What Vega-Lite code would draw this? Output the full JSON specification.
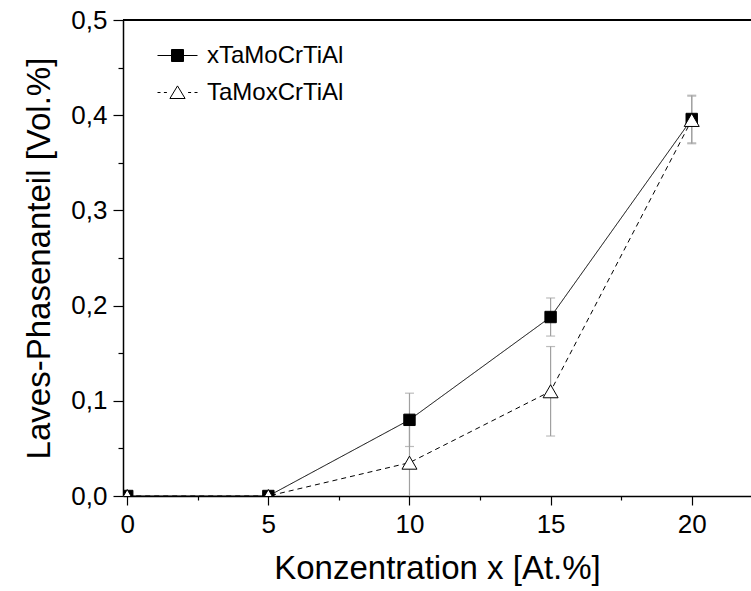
{
  "$schema": "https://vega.github.io/schema/vega-lite/v6.json",
  "width": 628,
  "height": 476,
  "autosize": "none",
  "padding": {"left": 123, "top": 20, "right": 0, "bottom": 95},
  "background": "white",
  "config": {
    "view": {"stroke": null},
    "font": "Liberation Sans",
    "axis": {
      "grid": false,
      "domainColor": "black",
      "domainWidth": 1.5,
      "tickColor": "black",
      "tickWidth": 1.2,
      "labelFont": "Liberation Sans",
      "labelFontSize": 26,
      "labelColor": "black",
      "titleFont": "Liberation Sans",
      "titleFontSize": 33,
      "titleFontWeight": "normal",
      "titleColor": "black"
    },
    "legend": {
      "orient": "none",
      "legendX": 34,
      "legendY": 15,
      "title": null,
      "labelFont": "Liberation Sans",
      "labelFontSize": 24,
      "labelColor": "black",
      "symbolSize": 1600,
      "symbolStrokeColor": "black",
      "symbolStrokeWidth": 1,
      "symbolOpacity": 1,
      "rowPadding": 4,
      "labelOffset": 9,
      "padding": 0
    }
  },
  "data": {
    "values": [
      {"series": "xTaMoCrTiAl", "x": 0, "y": 0, "lo": null, "hi": null},
      {"series": "xTaMoCrTiAl", "x": 5, "y": 0, "lo": null, "hi": null},
      {"series": "xTaMoCrTiAl", "x": 10, "y": 0.08, "lo": 0.052, "hi": 0.108},
      {"series": "xTaMoCrTiAl", "x": 15, "y": 0.188, "lo": 0.168, "hi": 0.208},
      {"series": "xTaMoCrTiAl", "x": 20, "y": 0.396, "lo": 0.371, "hi": 0.421},
      {"series": "TaMoxCrTiAl", "x": 0, "y": 0, "lo": null, "hi": null},
      {"series": "TaMoxCrTiAl", "x": 5, "y": 0, "lo": null, "hi": null},
      {"series": "TaMoxCrTiAl", "x": 10, "y": 0.035, "lo": -0.005, "hi": 0.075},
      {"series": "TaMoxCrTiAl", "x": 15, "y": 0.11, "lo": 0.063, "hi": 0.157},
      {"series": "TaMoxCrTiAl", "x": 20, "y": 0.395, "lo": 0.37, "hi": 0.42}
    ]
  },
  "resolve": {"scale": {"shape": "independent", "fill": "independent", "stroke": "independent"}},
  "layer": [
    {
      "mark": {"type": "rule", "color": "black", "strokeWidth": 1.5},
      "encoding": {"y": {"datum": 0.5, "type": "quantitative", "scale": {"domain": [0, 0.5]}, "title": "Laves-Phasenanteil [Vol.%]"}}
    },
    {
      "transform": [{"filter": "datum.lo != null"}],
      "mark": {"type": "errorbar", "color": "#a0a0a0", "clip": true, "ticks": {"size": 9, "color": "#a0a0a0"}, "thickness": 1.2},
      "encoding": {
        "x": {"field": "x", "type": "quantitative", "title": "Konzentration x [At.%]"},
        "y": {"field": "lo", "type": "quantitative", "title": "Laves-Phasenanteil [Vol.%]"},
        "y2": {"field": "hi"}
      }
    },
    {
      "mark": {"type": "line", "color": "black", "strokeWidth": 1, "clip": true},
      "encoding": {
        "x": {
          "field": "x", "type": "quantitative",
          "title": "Konzentration x [At.%]",
          "scale": {"domain": [-0.15, 22.1], "nice": false, "zero": false},
          "axis": {
            "values": [0, 2.5, 5, 7.5, 10, 12.5, 15, 17.5, 20],
            "tickSize": {"condition": {"test": "datum.value % 5 != 0", "value": 4}, "value": 9},
            "labelExpr": "datum.value % 5 == 0 ? format(datum.value, 'd') : ''",
            "labelPadding": 6,
            "titlePadding": 15
          }
        },
        "y": {
          "field": "y", "type": "quantitative",
          "title": "Laves-Phasenanteil [Vol.%]",
          "scale": {"domain": [0, 0.5], "nice": false, "zero": false},
          "axis": {
            "values": [0, 0.05, 0.1, 0.15, 0.2, 0.25, 0.3, 0.35, 0.4, 0.45, 0.5],
            "tickSize": {"condition": {"test": "abs(datum.value * 10 - round(datum.value * 10)) > 0.01", "value": 5}, "value": 10},
            "labelExpr": "abs(datum.value * 10 - round(datum.value * 10)) > 0.01 ? '' : replace(format(datum.value, '.1f'), '.', ',')",
            "labelPadding": 6,
            "titlePadding": 14
          }
        },
        "detail": {"field": "series"},
        "strokeDash": {
          "field": "series", "type": "nominal",
          "scale": {"domain": ["xTaMoCrTiAl", "TaMoxCrTiAl"], "range": [[1, 0], [5, 4]]},
          "legend": null
        }
      }
    },
    {
      "mark": {"type": "point", "filled": true, "stroke": "black", "strokeWidth": 1, "opacity": 1, "clip": true},
      "encoding": {
        "x": {"field": "x", "type": "quantitative", "title": "Konzentration x [At.%]"},
        "y": {"field": "y", "type": "quantitative", "title": "Laves-Phasenanteil [Vol.%]"},
        "shape": {
          "field": "series", "type": "nominal",
          "scale": {"domain": ["xTaMoCrTiAl", "TaMoxCrTiAl"], "range": ["square", "triangle-up"]},
          "legend": null
        },
        "fill": {
          "field": "series", "type": "nominal",
          "scale": {"domain": ["xTaMoCrTiAl", "TaMoxCrTiAl"], "range": ["black", "white"]},
          "legend": null
        },
        "size": {
          "field": "series", "type": "nominal",
          "scale": {"domain": ["xTaMoCrTiAl", "TaMoxCrTiAl"], "range": [130, 225]},
          "legend": null
        },
        "order": {"field": "x", "type": "quantitative"}
      }
    },
    {
      "transform": [{"filter": "false"}],
      "mark": {"type": "point", "filled": true, "opacity": 1, "strokeWidth": 1},
      "encoding": {
        "x": {"field": "x", "type": "quantitative", "title": "Konzentration x [At.%]"},
        "y": {"field": "y", "type": "quantitative", "title": "Laves-Phasenanteil [Vol.%]"},
        "shape": {
          "field": "series", "type": "nominal",
          "scale": {
            "domain": ["xTaMoCrTiAl", "TaMoxCrTiAl"],
            "range": [
              "M-1,0H1M-0.3,-0.3H0.3V0.3H-0.3Z",
              "M-1,0H-0.85M-0.68,0H-0.53M-0.38,0.3L0,-0.33L0.38,0.3ZM0.53,0H0.68M0.85,0H1"
            ]
          }
        },
        "fill": {
          "field": "series", "type": "nominal",
          "scale": {"domain": ["xTaMoCrTiAl", "TaMoxCrTiAl"], "range": ["black", "white"]}
        },
        "stroke": {
          "field": "series", "type": "nominal",
          "scale": {"domain": ["xTaMoCrTiAl", "TaMoxCrTiAl"], "range": ["black", "black"]}
        }
      }
    }
  ]
}
